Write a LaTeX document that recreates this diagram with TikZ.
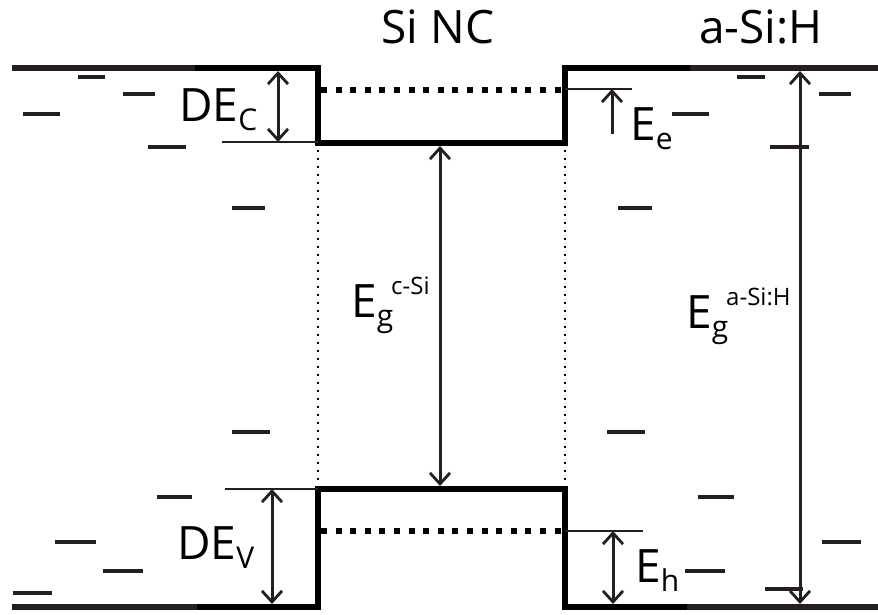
\documentclass[tikz,border=0pt]{standalone}
\usepackage{fontspec}
\setmainfont{Open Sans}
\usetikzlibrary{arrows.meta}
\definecolor{bandgray}{HTML}{231F20}
% indice et exposant des niveaux
\newcommand{\lsub}[1]{\raisebox{-9pt}{\fontsize{30}{32}\selectfont #1}}
\newcommand{\lsup}[1]{\raisebox{23pt}{\fontsize{24}{26}\selectfont #1}}
\tikzset{
  band/.style={line width=6pt, line cap=butt},
  well/.style={line width=6pt, line join=miter},
  trap/.style={line width=4.5pt, bandgray},
  level/.style={line width=6pt, dash pattern=on 6pt off 8.6pt},
  guide/.style={line width=1.6pt, bandgray},
  edge/.style={line width=2pt, dash pattern=on 2pt off 6pt},
  gap/.style={line width=3pt, bandgray, {Straight Barb[length=11pt,width=20pt,line width=2.8pt]}-{Straight Barb[length=11pt,width=20pt,line width=2.8pt]}},
  uparrow/.style={line width=3pt, bandgray, -{Straight Barb[length=11pt,width=20pt,line width=2.8pt]}},
  lbl/.style={font=\fontsize{46}{50}\selectfont, inner sep=0pt}
}
\begin{document}
\begin{tikzpicture}[x=1pt, y=-1pt]
  \useasboundingbox (0,0) rectangle (878,615);

  % Bandes de l'a-Si:H
  \draw[band, bandgray] (12,68) -- (195,68);
  \draw[band, bandgray] (690,68) -- (878,68);
  \draw[band, bandgray] (12,607) -- (197,607);
  \draw[band, bandgray] (687,607) -- (878,607);

  % Puits du nanocristal
  \draw[well] (195,68) -- (318,68) -- (318,143) -- (565,143) -- (565,68) -- (690,68);
  \draw[well] (197,607) -- (318,607) -- (318,489) -- (565,489) -- (565,607) -- (687,607);

  % Niveaux confines
  \draw[level] (321,90) -- (565,90);
  \draw[level] (321,531) -- (565,531);

  % Bords du nanocristal
  \draw[edge] (318,150) -- (318,486);
  \draw[edge] (565,150) -- (565,486);

  % Etats localises
  \foreach \xa/\xb/\yy in {78/105/77, 123/155/94, 23/60/114, 148/186/147,
      232/265/208, 232/270/432,
      157/192/497, 55/96/542, 103/143/571, 13/52/593,
      737/765/77, 819/851/94, 672/709/114, 770/809/147,
      618/652/208, 607/645/432,
      698/734/497, 822/861/542, 685/725/571, 765/803/589}
    \draw[trap] (\xa,\yy) -- (\xb,\yy);

  % Reperes
  \coordinate (ecTop) at (278,71);
  \coordinate (ecBot) at (278,142);
  \coordinate (evTop) at (272,489);
  \coordinate (evBot) at (272,604);
  \coordinate (cSiTop) at (440,146);
  \coordinate (cSiBot) at (440,486);
  \coordinate (aSiTop) at (800,71);
  \coordinate (aSiBot) at (800,604);
  \coordinate (eeTail) at (612,134);
  \coordinate (eeHead) at (612,89);
  \coordinate (ehTop) at (613,531);
  \coordinate (ehBot) at (613,604);

  \draw[guide] (222,142) -- (318,142);
  \draw[guide] (225,489) -- (318,489);
  \draw[guide] (565,89) -- (632,89);
  \draw[guide] (565,531) -- (643,531);

  % Fleches
  \draw[gap] (ecTop) -- (ecBot);
  \draw[gap] (evTop) -- (evBot);
  \draw[gap] (cSiTop) -- (cSiBot);
  \draw[gap] (aSiTop) -- (aSiBot);
  \draw[uparrow] (eeTail) -- (eeHead);
  \draw[gap] (ehTop) -- (ehBot);

  % Textes
  \node[lbl, anchor=base] (titleNC) at (438,44) {Si NC};
  \node[lbl, anchor=base] (titleASi) at (761,44) {a-Si:H};
  \node[lbl, anchor=base west] (dEc) at (179,122) {DE\lsub{C}};
  \node[lbl, anchor=base west] (dEv) at (177,559) {DE\lsub{V}};
  \node[lbl, anchor=base west] (eE) at (630,141) {E\lsub{e}};
  \node[lbl, anchor=base west] (eH) at (635,582) {E\lsub{h}};
  \node[lbl, anchor=base west] (egC) at (351,317) {E\lsub{g}\kern-2pt\lsup{c-Si}};
  \node[lbl, anchor=base west] (egA) at (686,328) {E\lsub{g}\kern-2pt\lsup{a-Si:H}};
\end{tikzpicture}
\end{document}
